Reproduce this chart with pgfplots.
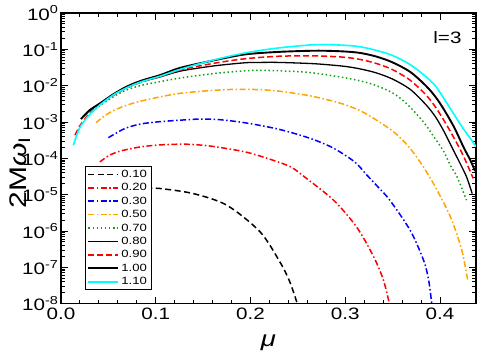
\documentclass[border=0pt]{standalone}
\usepackage{fontspec}
\setmainfont{Liberation Sans}[FakeStretch=1.25]
\usepackage{pgfplots}
\pgfplotsset{compat=1.18}
\definecolor{myorange}{RGB}{255,165,0}
\definecolor{mygreen}{RGB}{20,160,20}
\definecolor{mycyan}{RGB}{0,255,255}
\begin{document}
\begin{tikzpicture}
\begin{axis}[
  scale only axis,
  width=415pt, height=290.7pt,
  xmin=0, xmax=0.438,
  ymode=log, ymin=1e-8, ymax=1,
  axis line style={line width=1.3pt},
  every tick/.style={black, line width=1pt},
  major tick length=7pt, minor tick length=4pt,
  tick align=inside,
  xtick={0,0.1,0.2,0.3,0.4},
  xticklabels={0.0,0.1,0.2,0.3,0.4},
  minor x tick num=4,
  ytick={1e-8,1e-7,1e-6,1e-5,1e-4,1e-3,1e-2,1e-1,1},
  yticklabels={10\textsuperscript{-8},10\textsuperscript{-7},10\textsuperscript{-6},10\textsuperscript{-5},10\textsuperscript{-4},10\textsuperscript{-3},10\textsuperscript{-2},10\textsuperscript{-1},10\textsuperscript{0}},
  ticklabel style={font=\fontsize{16.5}{18}\selectfont},
  xticklabel style={yshift=-1pt},
  yticklabel style={xshift=1pt},
  xlabel={\textit{μ}},
  xlabel style={font=\fontsize{22}{24}\selectfont, at={(axis description cs:0.5,-0.135)}, anchor=center},
  ylabel={2M\textit{ω}\textsubscript{I}},
  ylabel style={font=\fontsize{24}{26}\selectfont, at={(axis description cs:-0.099,0.45)}, anchor=center},
  legend style={at={(axis description cs:0.058,0.4737)}, anchor=north west,
    font=\fontsize{10.5}{11}\selectfont, line width=0.9pt, fill=white,
    inner xsep=2pt, inner ysep=1.5pt, row sep=0.6pt},
  legend cell align=left,
  legend image code/.code={\draw[#1] (0pt,0pt) -- (30pt,0pt);},
  every axis plot/.append style={line width=1.5pt},
]
% 0.10
\addplot[black, dash pattern=on 6pt off 3.5pt, smooth] table[x=m, y expr=10^(\thisrow{l})] {
m l
0.05 -4.90
0.07 -4.85
0.09 -4.83
0.1045 -4.83
0.1397 -4.97
0.175 -5.29
0.210 -6.02
0.231 -6.85
0.2415 -7.40
0.250 -8.05
};
\addlegendentry{0.10}
% 0.20
\addplot[red, dash pattern=on 6pt off 2.5pt on 1.5pt off 2.5pt, smooth] table[x=m, y expr=10^(\thisrow{l})] {
m l
0.041 -4.10
0.05 -3.93
0.06 -3.82
0.069 -3.76
0.085 -3.68
0.1045 -3.63
0.1257 -3.61
0.14 -3.62
0.16 -3.67
0.194 -3.82
0.22 -4.02
0.242 -4.23
0.256 -4.49
0.2876 -5.15
0.312 -5.89
0.330 -6.71
0.3404 -7.36
0.3470 -8.05
};
\addlegendentry{0.20}
% 0.30
\addplot[blue, dash pattern=on 6pt off 2.5pt on 1.5pt off 2.5pt, smooth] table[x=m, y expr=10^(\thisrow{l})] {
m l
0.050 -3.43
0.06 -3.28
0.069 -3.16
0.085 -3.05
0.1045 -2.99
0.1257 -2.95
0.145 -2.92
0.165 -2.93
0.194 -3.02
0.23 -3.20
0.263 -3.45
0.2876 -3.72
0.31 -4.10
0.3228 -4.46
0.335 -4.80
0.347 -5.15
0.3685 -5.98
0.3826 -6.80
0.388 -7.35
0.3915 -8.05
};
\addlegendentry{0.30}
% 0.50
\addplot[myorange, dash pattern=on 6pt off 2.5pt on 1.5pt off 2.5pt, smooth] table[x=m, y expr=10^(\thisrow{l})] {
m l
0.037 -3.02
0.045 -2.85
0.055 -2.69
0.069 -2.54
0.085 -2.42
0.1045 -2.31
0.1257 -2.21
0.16 -2.13
0.1855 -2.10
0.21 -2.11
0.23 -2.15
0.263 -2.28
0.2946 -2.48
0.315 -2.68
0.330 -2.90
0.35 -3.25
0.365 -3.62
0.379 -4.10
0.393 -4.69
0.411 -5.61
0.423 -6.53
0.4295 -7.40
};
\addlegendentry{0.50}
% 0.70
\addplot[mygreen, dash pattern=on 1.5pt off 2.6pt, smooth] table[x=m, y expr=10^(\thisrow{l})] {
m l
0.033 -2.72
0.041 -2.55
0.055 -2.31
0.069 -2.12
0.085 -1.99
0.1045 -1.89
0.1257 -1.79
0.16 -1.67
0.194 -1.59
0.21 -1.58
0.23 -1.59
0.263 -1.64
0.2946 -1.76
0.316 -1.87
0.333 -2.00
0.35 -2.20
0.365 -2.50
0.3826 -3.00
0.392 -3.35
0.4037 -3.80
0.411 -4.20
0.418 -4.51
0.428 -5.15
};
\addlegendentry{0.70}
% 0.80
\addplot[black, line width=1.3pt, smooth] table[x=m, y expr=10^(\thisrow{l})] {
m l
0.024 -2.84
0.03 -2.68
0.041 -2.49
0.055 -2.25
0.069 -2.05
0.085 -1.89
0.1045 -1.76
0.1257 -1.60
0.16 -1.46
0.194 -1.37
0.21 -1.36
0.23 -1.36
0.263 -1.39
0.28 -1.42
0.30 -1.47
0.316 -1.54
0.333 -1.65
0.35 -1.82
0.3685 -2.10
0.385 -2.52
0.395 -2.85
0.404 -3.25
0.414 -3.77
0.421 -4.13
0.428 -4.51
0.434 -4.97
};
\addlegendentry{0.80}
% 0.90
\addplot[red, dash pattern=on 6pt off 3pt, smooth] table[x=m, y expr=10^(\thisrow{l})] {
m l
0.0148 -3.36
0.02 -3.10
0.03 -2.76
0.041 -2.52
0.055 -2.27
0.069 -2.07
0.085 -1.90
0.1045 -1.75
0.1257 -1.57
0.16 -1.39
0.194 -1.26
0.23 -1.19
0.263 -1.18
0.28 -1.19
0.30 -1.22
0.316 -1.28
0.333 -1.39
0.35 -1.56
0.3685 -1.85
0.385 -2.25
0.395 -2.58
0.404 -2.95
0.415 -3.45
0.425 -3.95
0.435 -4.55
};
\addlegendentry{0.90}
% 1.00
\addplot[black, line width=1.9pt, smooth] table[x=m, y expr=10^(\thisrow{l})] {
m l
0.021 -2.92
0.03 -2.68
0.041 -2.49
0.055 -2.24
0.069 -2.03
0.085 -1.86
0.1045 -1.71
0.1257 -1.51
0.16 -1.31
0.194 -1.14
0.23 -1.07
0.263 -1.04
0.28 -1.04
0.30 -1.06
0.316 -1.10
0.333 -1.20
0.35 -1.36
0.3685 -1.62
0.385 -2.00
0.395 -2.30
0.404 -2.65
0.415 -3.15
0.425 -3.70
0.432 -4.05
0.437 -4.35
};
\addlegendentry{1.00}
% 1.10
\addplot[mycyan, line width=1.6pt, smooth] table[x=m, y expr=10^(\thisrow{l})] {
m l
0.013 -3.64
0.02 -3.15
0.03 -2.80
0.041 -2.53
0.055 -2.26
0.069 -2.06
0.085 -1.89
0.1045 -1.74
0.1257 -1.55
0.16 -1.30
0.194 -1.10
0.23 -0.96
0.263 -0.88
0.28 -0.87
0.30 -0.89
0.316 -0.93
0.333 -1.03
0.35 -1.17
0.3685 -1.42
0.385 -1.75
0.395 -2.00
0.404 -2.35
0.415 -2.80
0.425 -3.20
0.432 -3.45
0.438 -3.68
};
\addlegendentry{1.10}
\node[anchor=north east, inner sep=0pt, font=\fontsize{16.5}{18}\selectfont] at (rel axis cs:0.9655,0.938) {l=3};
\coordinate (bbl) at (rel axis cs:-0.147,-0.1593);
\coordinate (btr) at (rel axis cs:1.0096,1.0447);
\end{axis}
\pgfresetboundingbox
\path (bbl) rectangle (btr);
\end{tikzpicture}
\end{document}
